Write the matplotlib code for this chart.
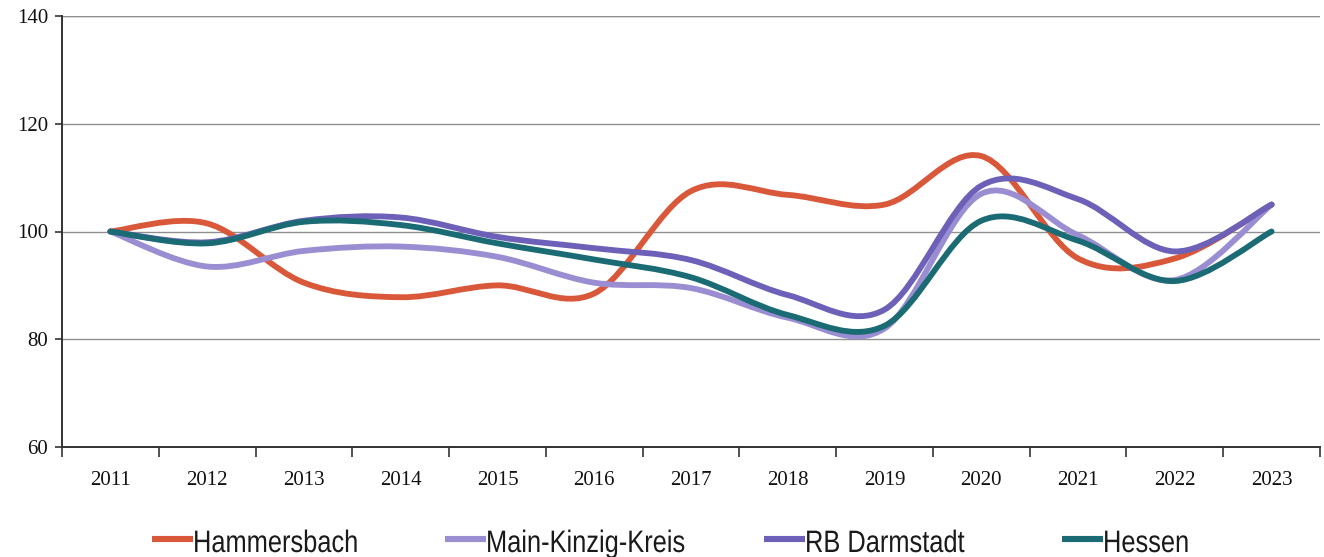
import numpy as np
import matplotlib.pyplot as plt
from matplotlib.path import Path
from matplotlib.patches import PathPatch
from matplotlib.lines import Line2D
from matplotlib.textpath import TextPath
from matplotlib.font_manager import FontProperties
from matplotlib.transforms import Affine2D

years = ["2011", "2012", "2013", "2014", "2015", "2016", "2017",
         "2018", "2019", "2020", "2021", "2022", "2023"]
hammersbach = [100, 101.5, 90.5, 87.8, 90.0, 88.5, 107.5, 106.8, 105.0, 114.0, 95.0, 95.0, 105.0]
main_kinzig = [100, 93.5, 96.4, 97.2, 95.3, 90.5, 89.5, 84.0, 82.0, 107.0, 99.3, 91.0, 105.0]
rb_darmstadt = [100, 98.0, 102.0, 102.6, 99.0, 96.9, 94.7, 88.2, 85.5, 108.5, 106.0, 96.3, 105.0]
hessen = [100, 97.8, 101.8, 101.2, 97.8, 94.8, 91.5, 84.5, 82.5, 102.0, 98.3, 90.8, 100.0]

series = [
    ("Hammersbach", hammersbach, "#D9583A"),
    ("Main-Kinzig-Kreis", main_kinzig, "#9A8DD2"),
    ("RB Darmstadt", rb_darmstadt, "#6C60B8"),
    ("Hessen", hessen, "#1B6B74"),
]

W, H = 1324, 557


def smooth_path(x, y, k=1 / 6):
    # Excel-like smoothed line: cubic Bezier segments through every data point
    x = np.asarray(x, float)
    y = np.asarray(y, float)
    px = np.concatenate([[x[0]], x, [x[-1]]])
    py = np.concatenate([[y[0]], y, [y[-1]]])
    verts = [(x[0], y[0])]
    codes = [Path.MOVETO]
    for i in range(len(x) - 1):
        j = i + 1
        c1 = (x[i] + (px[j + 1] - px[j - 1]) * k, y[i] + (py[j + 1] - py[j - 1]) * k)
        c2 = (x[i + 1] - (px[j + 2] - px[j]) * k, y[i + 1] - (py[j + 2] - py[j]) * k)
        verts += [c1, c2, (x[i + 1], y[i + 1])]
        codes += [Path.CURVE4] * 3
    return Path(verts, codes)


fig = plt.figure(figsize=(W / 100, H / 100), dpi=100)
ax = fig.add_axes([62 / W, 1 - 447 / H, (1320 - 62) / W, (447 - 16) / H])

xs = np.arange(len(years))
for name, vals, color in series:
    ax.add_patch(PathPatch(smooth_path(xs, vals), facecolor="none", edgecolor=color,
                           lw=4.2, capstyle="round", joinstyle="round", zorder=3))

ax.set_xlim(-0.5, len(years) - 0.5)
ax.set_ylim(60, 140)
ax.set_yticks([60, 80, 100, 120, 140])
ax.set_yticklabels(["60", "80", "100", "120", "140"], family="Liberation Serif", fontsize=15, color="#111111")
ax.set_xticks(xs)
ax.set_xticklabels(years, family="Liberation Serif", fontsize=15, color="#111111")
ax.set_xticks(np.arange(-0.5, len(years)), minor=True)
ax.tick_params(axis="x", which="major", length=0, pad=17)
ax.tick_params(axis="x", which="minor", length=7, width=1.2, color="#333333", direction="out")
ax.tick_params(axis="y", length=5, width=1.2, color="#333333", pad=5)
ax.yaxis.grid(True, color="#8f8f8f", lw=1.0)
ax.set_axisbelow(True)
for s in ["top", "right"]:
    ax.spines[s].set_visible(False)
for s in ["left", "bottom"]:
    ax.spines[s].set_color("#333333")
    ax.spines[s].set_linewidth(1.4)
ax.axhline(140, color="#8f8f8f", lw=1.0, zorder=1)

# legend in a condensed sans (Arial Narrow look), drawn in figure pixels
pix = Affine2D().scale(1 / W, 1 / H) + fig.transFigure
leg_font = FontProperties(family="Liberation Sans")
leg_x = [152, 445, 764, 1062]
handle_len = 41
for (name, _, color), x0 in zip(series, leg_x):
    fig.add_artist(Line2D([x0, x0 + handle_len], [H - 539, H - 539], color=color, lw=4.4,
                          solid_capstyle="butt", transform=pix))
    tp = TextPath((0, 0), name, size=31, prop=leg_font)
    tr = Affine2D().scale(0.82, 1).translate(x0 + handle_len, H - 552) + pix
    fig.add_artist(PathPatch(tp, facecolor="#1a1a1a", edgecolor="none", transform=tr))

fig.savefig("out.png", dpi=100)
